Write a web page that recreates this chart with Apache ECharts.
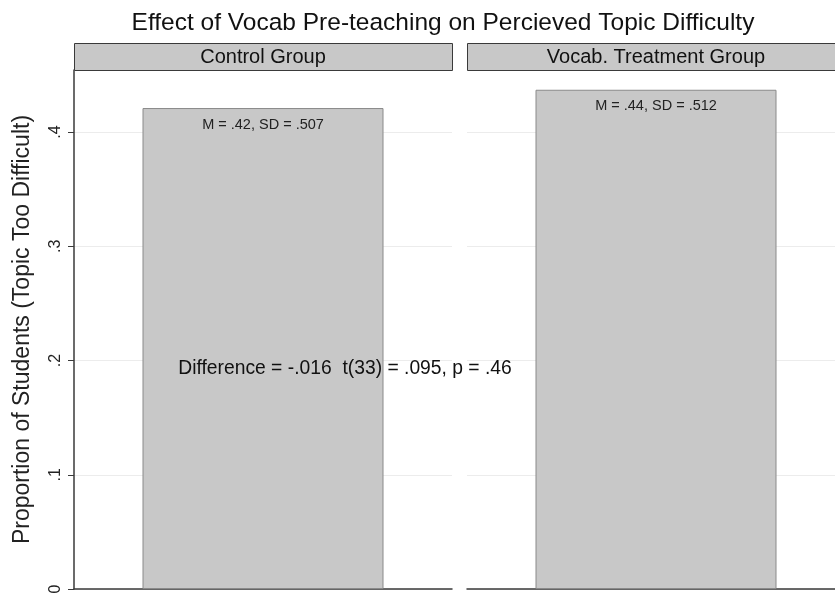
<!DOCTYPE html>
<html><head><meta charset="utf-8">
<script src="https://cdn.jsdelivr.net/npm/echarts@6/dist/echarts.min.js"></script>
<style>html,body{margin:0;padding:0;background:#fff}#c{width:835px;height:596px}</style>
</head><body><div id="c"></div>
<script>
var panels = ['Control Group', 'Vocab. Treatment Group'];
var proportions = [0.421, 0.437];
var barLabels = ['M = .42, SD = .507', 'M = .44, SD = .512'];
var yTicks = [0, 0.1, 0.2, 0.3, 0.4];
var yTickLabels = ['0', '.1', '.2', '.3', '.4'];
var diffText = 'Difference = -.016  t(33) = .095, p = .46';
var titleText = 'Effect of Vocab Pre-teaching on Percieved Topic Difficulty';
var yName = 'Proportion of Students (Topic Too Difficult)';

var FONT = '"Liberation Sans", Arial, sans-serif';
var chart = echarts.init(document.getElementById('c'), null, {renderer: 'canvas'});
var grids = [
  {left: 74, width: 378, top: 70, bottom: 7, outerBoundsMode: 'none'},
  {left: 467, width: 378, top: 70, bottom: 7, outerBoundsMode: 'none'}
];
var yMax = 0.4543;
function fmt(v) {
  for (var i = 0; i < yTicks.length; i++) if (Math.abs(v - yTicks[i]) < 1e-6) return yTickLabels[i];
  return '';
}
var xAxes = [], yAxes = [], series = [];
panels.forEach(function (p, i) {
  xAxes.push({type: 'category', gridIndex: i, data: [p],
    axisLine: {show: true, lineStyle: {color: '#3a3a3a', width: 1.5}},
    axisTick: {show: false}, axisLabel: {show: false}});
  yAxes.push({type: 'value', gridIndex: i, min: 0, max: yMax, interval: 0.1,
    name: i === 0 ? yName : '', nameLocation: 'middle', nameGap: 40, nameRotate: 90,
    nameTextStyle: {fontFamily: FONT, fontSize: 23, color: '#222'},
    axisLine: {show: i === 0, lineStyle: {color: '#3a3a3a', width: 1.5}},
    axisTick: {show: i === 0, length: 6, lineStyle: {color: '#3a3a3a'}},
    axisLabel: {show: i === 0, rotate: 90, formatter: fmt, fontFamily: FONT, fontSize: 16, color: '#222', margin: 10, showMaxLabel: false},
    splitLine: {show: true, lineStyle: {color: '#ececec', width: 1}}
  });
  series.push({type: 'bar', xAxisIndex: i, yAxisIndex: i, barWidth: 241,
    data: [proportions[i]],
    itemStyle: {color: '#c8c8c8', borderColor: '#8a8a8a', borderWidth: 1},
    label: {show: true, position: 'insideTop', distance: 9, formatter: barLabels[i],
      fontFamily: FONT, fontSize: 14.5, color: '#222'},
    silent: true
  });
});
var graphics = [];
var stripX = [74, 467], stripW = [378, 378];
panels.forEach(function (p, i) {
  graphics.push({type: 'rect', shape: {x: stripX[i] + 0.5, y: 43.5, width: stripW[i], height: 27},
    style: {fill: '#c8c8c8', stroke: '#3a3a3a', lineWidth: 1}, z: 10});
  graphics.push({type: 'text', x: stripX[i] + stripW[i] / 2, y: 57, z: 11,
    style: {text: p, font: '20px ' + FONT, fill: '#111', align: 'center', verticalAlign: 'middle'}});
});
graphics.push({type: 'text', x: 345, y: 369, z: 12,
  style: {text: diffText, font: '19.3px ' + FONT, fill: '#111', align: 'center', verticalAlign: 'middle'}});

chart.setOption({
  animation: false,
  backgroundColor: '#ffffff',
  title: {text: titleText, left: 438, top: 6, textAlign: 'center',
    textStyle: {fontFamily: FONT, fontSize: 24.5, fontWeight: 'normal', color: '#111'}},
  grid: grids,
  xAxis: xAxes,
  yAxis: yAxes,
  series: series,
  graphic: graphics
});
</script></body></html>
